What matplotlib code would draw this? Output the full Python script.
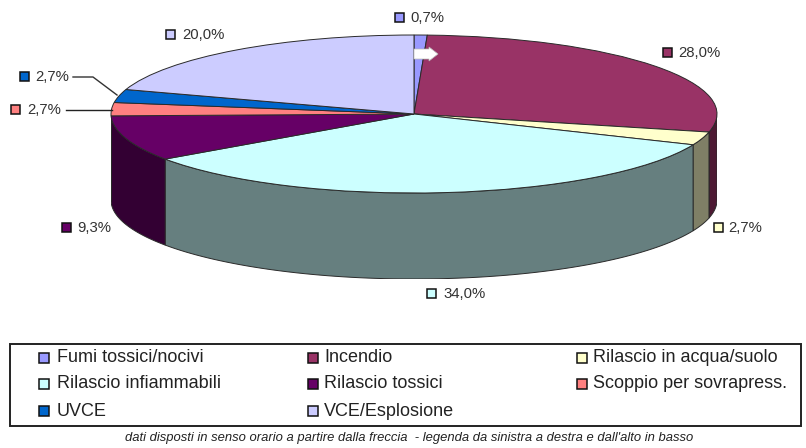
import numpy as np
import matplotlib
matplotlib.use("Agg")
import matplotlib.pyplot as plt
from matplotlib.patches import Polygon, Rectangle

plt.rcParams['font.family'] = ['Liberation Sans', 'DejaVu Sans']

categories = ["Fumi tossici/nocivi", "Incendio", "Rilascio in acqua/suolo",
              "Rilascio infiammabili", "Rilascio tossici", "Scoppio per sovrapress.",
              "UVCE", "VCE/Esplosione"]
values = [0.7, 28.0, 2.7, 34.0, 9.3, 2.7, 2.7, 20.0]
top_colors = ["#9999FF", "#993366", "#FFFFCC", "#CCFFFF", "#660066", "#FF8080", "#0066CC", "#CCCCFF"]
side_colors = ["#4D4D80", "#4D1933", "#7F7F66", "#667F7F", "#330033", "#804040", "#003366", "#66667F"]
footer = "dati disposti in senso orario a partire dalla freccia  - legenda da sinistra a destra e dall'alto in basso"

W, H = 806, 448
CX, CY, RX, RY, DEPTH = 414, 114, 303, 79, 86
EDGE = "#2a2a2a"

fig = plt.figure(figsize=(W / 100, H / 100), dpi=100, facecolor="white")

# pie axes: x -1..1 spans the ellipse width, y 1..-1 the ellipse height, then the wall depth
d = DEPTH / RY
ax = fig.add_axes([(CX - RX) / W, 1 - (CY + RY + DEPTH) / H, 2 * RX / W, (2 * RY + DEPTH) / H])
wedges, _ = ax.pie(values, colors=top_colors, startangle=90, counterclock=False,
                   wedgeprops=dict(edgecolor=EDGE, linewidth=0.7, zorder=5))
ax.set_aspect("auto")
ax.set_xlim(-1, 1)
ax.set_ylim(-1 - d, 1)
ax.axis("off")

# front walls, derived from the same values
fractions = np.array(values) / sum(values)
bounds = np.concatenate([[0], np.cumsum(fractions)]) * 2 * np.pi
for a0, a1, c in zip(bounds[:-1], bounds[1:], side_colors):
    lo, hi = max(a0, np.pi / 2), min(a1, 3 * np.pi / 2)
    if hi <= lo:
        continue
    t = np.linspace(lo, hi, 80)
    x, y = np.sin(t), np.cos(t)
    pts = np.r_[np.c_[x, y], np.c_[x[::-1], y[::-1] - d]]
    ax.add_patch(Polygon(pts, closed=True, facecolor=c, edgecolor=EDGE, linewidth=0.7, zorder=2))

# overlay in pixel coordinates for annotations
ov = fig.add_axes([0, 0, 1, 1], facecolor="none")
ov.set_xlim(0, W)
ov.set_ylim(H, 0)
ov.axis("off")


def swatch(x, y, color, w=9, h=9, ax_=ov):
    ax_.add_patch(Rectangle((x, y - h / 2), w, h, facecolor=color, edgecolor="#111111", linewidth=1.1, zorder=8))


# start arrow
ov.add_patch(Polygon([(414, 49), (429, 49), (429, 47), (438, 54), (429, 61), (429, 59), (414, 59)],
                     closed=True, facecolor="white", edgecolor="#bbbbbb", linewidth=0.5, zorder=7))

# data labels: swatch x, text x, y
label_pos = [(395, 410, 18), (663, 678, 53), (714, 728, 228), (427, 443, 294),
             (62, 77, 228), (11, 27, 110), (20, 35, 77), (166, 182, 35)]
for (sx, tx, y), v, c in zip(label_pos, values, top_colors):
    swatch(sx, y, c)
    ov.text(tx, y, f"{v:.1f}%".replace(".", ","), fontsize=10.7, color="#333333", va="center", ha="left", zorder=8)

# leader lines
ov.plot([73, 93, 117], [77, 77, 95], color="#333333", lw=1.0, zorder=6)
ov.plot([66, 112], [110, 110], color="#222222", lw=1.0, zorder=6)

# legend box
ov.add_patch(Rectangle((10, 344), 791, 82, facecolor="white", edgecolor="#222222", linewidth=1.4, zorder=3))
col_x = [39, 308, 577]
row_y = [358, 384, 411]
for i, (name, c) in enumerate(zip(categories, top_colors)):
    r, k = divmod(i, 3)
    swatch(col_x[k], row_y[r], c, w=10, h=10)
    ov.text(col_x[k] + 18 if k == 0 else col_x[k] + 16, row_y[r], name, fontsize=13, color="#222222",
            va="center", ha="left", zorder=8)

ov.text(409, 438, footer, fontsize=9.4, style="italic", color="#222222", ha="center", va="center")

fig.savefig("out.png", dpi=100, facecolor="white")
